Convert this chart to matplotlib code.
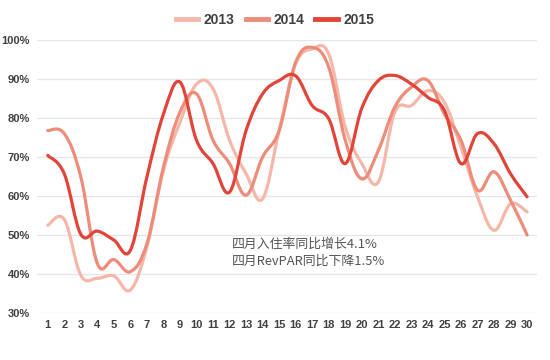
import numpy as np
import matplotlib
matplotlib.use("Agg")
import matplotlib.pyplot as plt
from matplotlib.path import Path
from matplotlib.patches import PathPatch
from matplotlib.lines import Line2D

plt.rcParams["font.family"] = ["Liberation Sans", "DejaVu Sans"]

days = list(range(1, 31))
occ_2013 = [52.5, 54, 39.7, 38.9, 39.5, 35.9, 47, 66.6, 78.9, 88.7,
            87.5, 74.3, 65.7, 59.3, 76.8, 93.9, 97.7, 96.4, 77.7, 68.3,
            63.6, 81.5, 83.2, 87, 84, 72.5, 59.8, 51.2, 58, 55.9]
occ_2014 = [76.8, 76, 64.9, 42.7, 43.7, 40.6, 47.8, 67.4, 81.5, 86.2,
            74.3, 68.3, 60.2, 70, 76.8, 94.3, 98.1, 93, 74.3, 64.4,
            71.7, 82.8, 87.9, 89.6, 81, 74.3, 61.5, 66.2, 58.9, 50]
occ_2015 = [70.4, 65.7, 50.2, 51, 48.7, 46.1, 64.9, 81, 89.2, 74.3,
            68.3, 61, 76.8, 86.2, 89.6, 90.8, 83.2, 79.8, 68.3, 82.5,
            89.6, 90.9, 88.7, 85.3, 81.9, 68.3, 76, 73.4, 65.7, 59.8]
years = ["2013", "2014", "2015"]
colors = ["#F5B7A9", "#EE8C7A", "#E1453A"]
note_lines = ["四月入住率同比增长4.1%", "四月RevPAR同比下降1.5%"]


def smooth_path(x, y, t=0.5):
    # Catmull-Rom style curve turned into cubic Bezier segments
    x = np.asarray(x, float)
    y = np.asarray(y, float)
    verts = [(x[0], y[0])]
    codes = [Path.MOVETO]
    n = len(x)
    for i in range(n - 1):
        p0 = i - 1 if i > 0 else i
        p3 = i + 2 if i + 2 < n else i + 1
        c1 = (x[i] + (x[i + 1] - x[p0]) * t / 3, y[i] + (y[i + 1] - y[p0]) * t / 3)
        c2 = (x[i + 1] - (x[p3] - x[i]) * t / 3, y[i + 1] - (y[p3] - y[i]) * t / 3)
        verts += [c1, c2, (x[i + 1], y[i + 1])]
        codes += [Path.CURVE4] * 3
    return Path(verts, codes)


fig = plt.figure(figsize=(5.5, 3.6), dpi=100)
ax = fig.add_axes([37 / 550, 47 / 360, 500 / 550, 273 / 360])

handles = []
for name, vals, col in zip(years, [occ_2013, occ_2014, occ_2015], colors):
    patch = PathPatch(smooth_path(days, vals, t=0.55), fill=False, edgecolor=col,
                      linewidth=2.3, capstyle="round", joinstyle="round")
    ax.add_patch(patch)
    handles.append(Line2D([], [], color=col, linewidth=3.5))

ax.set_xlim(0.35, 30.6)
ax.set_ylim(30, 100)
ax.set_xticks(days)
ax.set_xticklabels([str(d) for d in days])
ax.set_yticks(range(30, 101, 10))
ax.set_yticklabels([f"{v}%" for v in range(30, 101, 10)])
ax.grid(axis="y", color="#E6E6E6", linewidth=0.9)
ax.set_axisbelow(True)
for s in ax.spines.values():
    s.set_visible(False)
ax.tick_params(length=0, labelsize=8, colors="#404040", pad=5)
for lab in ax.get_xticklabels() + ax.get_yticklabels():
    lab.set_fontweight("bold")

ax.text(0.39, 0.22, note_lines[0] + "\n" + note_lines[1], transform=ax.transAxes,
        fontsize=9.3, color="#555555", linespacing=1.45,
        family=["Noto Sans CJK SC", "DejaVu Sans"], va="center")

fig.legend(handles, years, loc="center", bbox_to_anchor=(0.5, 0.945), ncol=3,
           frameon=False, handlelength=1.6, columnspacing=0.8, handletextpad=0.4,
           prop={"weight": "bold", "size": 10}, labelcolor="#404040")

fig.savefig("out.png", dpi=100)
